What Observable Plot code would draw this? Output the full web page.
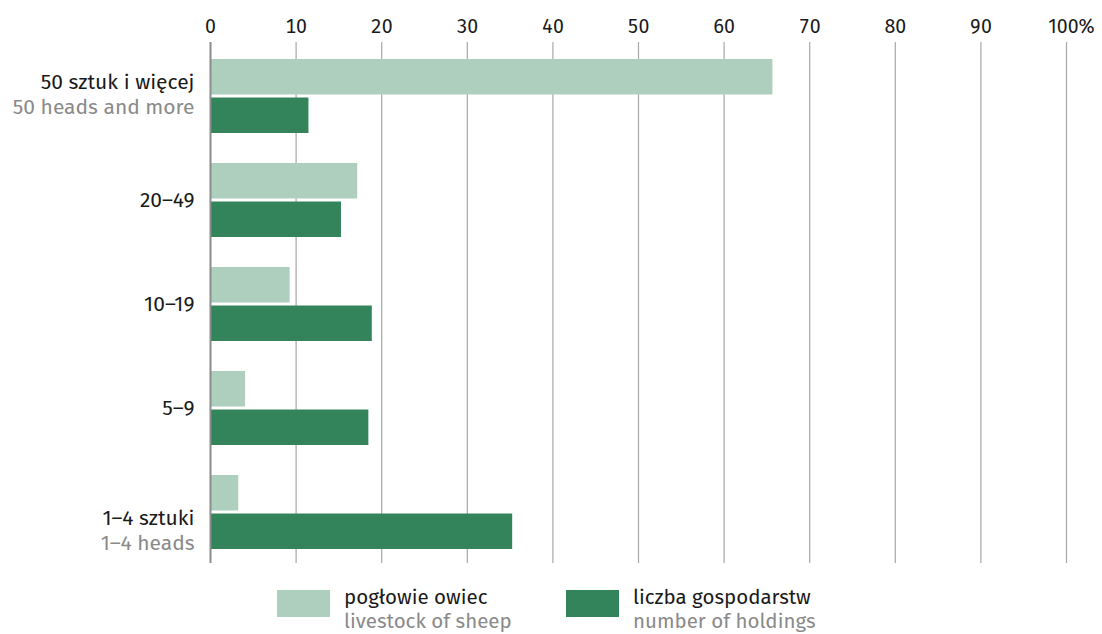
<!DOCTYPE html>
<html>
<head>
<meta charset="utf-8">
<script src="https://cdn.jsdelivr.net/npm/d3@7"></script>
<script src="https://cdn.jsdelivr.net/npm/@observablehq/plot@0.6"></script>
<style>
  html, body { margin: 0; padding: 0; background: #fff; }
  #wrap { position: relative; width: 1102px; height: 634px; overflow: hidden; font-family: "Fira Sans", "Noto Sans", sans-serif; }
  #wrap svg { position: absolute; left: 0; top: 0; }
  .lg-sw { position: absolute; top: 590px; width: 53px; height: 27px; }
  .lg-t { position: absolute; top: 586px; font-size: 20.5px; line-height: 23.5px; white-space: nowrap; }
  .lg-t .pl { color: #1a1a1a; }
  .lg-t .en { color: #8a8a8a; }
</style>
</head>
<body>
<div id="wrap"></div>
<script>
// ---- data ----
const categories   = ["50 sztuk i więcej", "20–49", "10–19", "5–9", "1–4 sztuki"];
const categoriesEn = ["50 heads and more", "", "", "", "1–4 heads"];
const livestock    = [65.7, 17.2, 9.3, 4.1, 3.3];   // pogłowie owiec, %
const holdings     = [11.5, 15.3, 18.9, 18.5, 35.3]; // liczba gospodarstw, %
const seriesPl     = ["pogłowie owiec", "liczba gospodarstw"];
const seriesEn     = ["livestock of sheep", "number of holdings"];
const xTicks       = [0, 10, 20, 30, 40, 50, 60, 70, 80, 90, 100];

// ---- styles ----
const colors = ["#aecfbd", "#33835b"];
const black = "#1a1a1a", gray = "#8a8a8a";
const font = '"Fira Sans", "Noto Sans", sans-serif';
const labelSize = 21, tickSize = 19.5;

const rows = categories.map((c, i) => ({cat: c, en: categoriesEn[i], livestock: livestock[i], holdings: holdings[i]}));

const width = 1102, height = 575;
const mTop = 42, mBottom = 12, mLeft = 210, mRight = 36;

// per-row vertical offsets of label lines (layout)
const lineOffsets = i => i === 0 ? [-14.5, 10.5] : i === rows.length - 1 ? [5.5, 30.5] : [0, 0];

const labelMarks = [];
rows.forEach((r, i) => {
  const [d1, d2] = lineOffsets(i);
  labelMarks.push(Plot.text([r], {y: "cat", text: "cat", frameAnchor: "left", textAnchor: "end", dx: -16, dy: d1, fill: black, fontSize: labelSize}));
  if (r.en) labelMarks.push(Plot.text([r], {y: "cat", text: "en", frameAnchor: "left", textAnchor: "end", dx: -16, dy: d2, fill: gray, fontSize: labelSize}));
});

const chart = Plot.plot({
  width, height,
  marginTop: mTop, marginBottom: mBottom, marginLeft: mLeft, marginRight: mRight,
  style: {fontFamily: font, background: "transparent", overflow: "visible"},
  x: {domain: [0, 100], axis: null},
  y: {domain: categories, range: [59, 550], paddingInner: 0.288, paddingOuter: 0, axis: null},
  marks: [
    Plot.ruleX(xTicks.filter(d => d > 0), {stroke: "#a8a8a8", strokeWidth: 1.2}),
    Plot.barX(rows, {y: "cat", x: "livestock", fill: colors[0], insetBottom: 38.5}),
    Plot.barX(rows, {y: "cat", x: "holdings", fill: colors[1], insetTop: 38.5}),
    Plot.ruleX([0], {stroke: "#8c8c8c", strokeWidth: 2}),
    Plot.axisX(xTicks.filter(d => d < 100), {anchor: "top", tickSize: 0, tickPadding: 10, fontSize: tickSize, fill: black, tickFormat: d => String(d)}),
    Plot.text([100], {x: d => d, text: d => d + "%", frameAnchor: "top", lineAnchor: "bottom", dy: -10, dx: 5, fontSize: tickSize, fill: black}),
    ...labelMarks
  ]
});

const wrap = document.getElementById("wrap");
wrap.appendChild(chart);

// legend (HTML, below the plot)
const legendX = [277, 566];
seriesPl.forEach((s, i) => {
  const sw = document.createElement("div");
  sw.className = "lg-sw";
  sw.style.left = legendX[i] + "px";
  sw.style.background = colors[i];
  wrap.appendChild(sw);
  const t = document.createElement("div");
  t.className = "lg-t";
  t.style.left = (legendX[i] + 67) + "px";
  t.innerHTML = `<div class="pl">${s}</div><div class="en">${seriesEn[i]}</div>`;
  wrap.appendChild(t);
});
</script>
</body>
</html>
